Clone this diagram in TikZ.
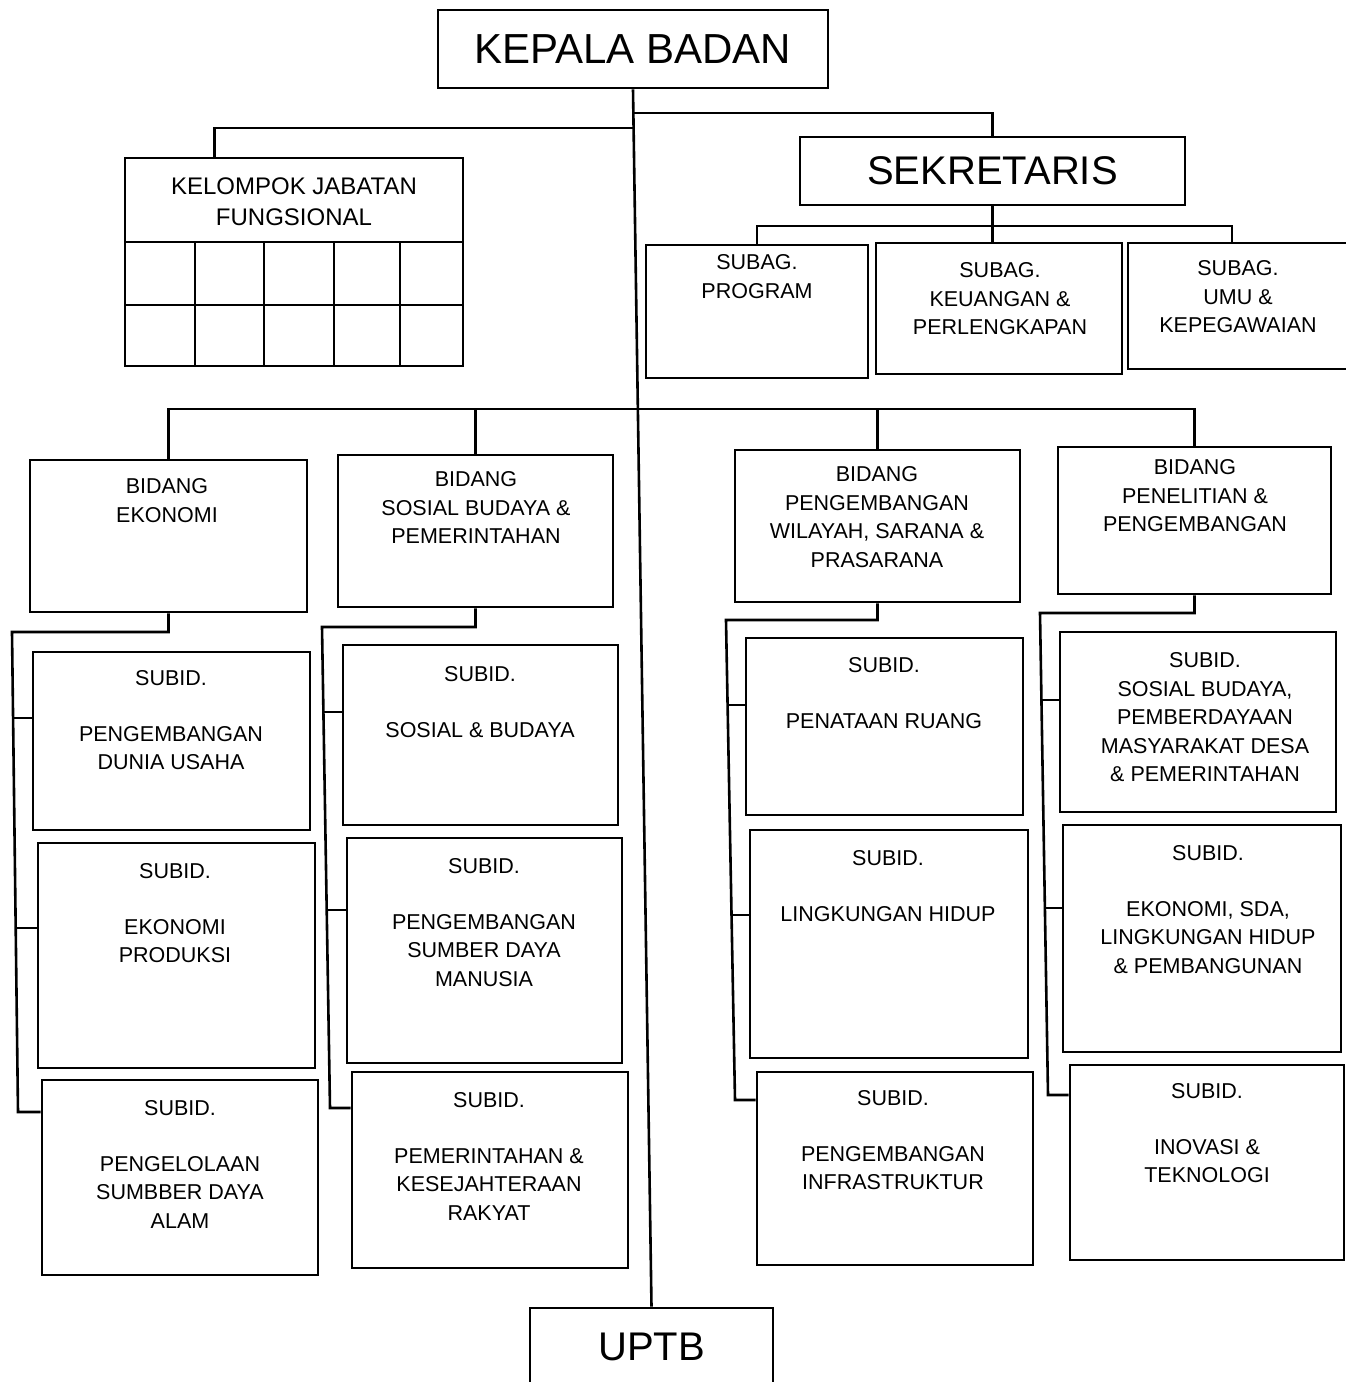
\documentclass[tikz,border=0pt]{standalone}
\usepackage{fontspec}
\setmainfont{Liberation Sans}
\begin{document}
\begin{tikzpicture}[x=1pt,y=-1pt,
  box/.style={draw, line width=2.6pt, inner sep=0pt, rectangle},
  txt/.style={anchor=north, inner sep=0pt, align=center, font=\fontsize{21.5}{28.5}\selectfont},
  big/.style={font=\fontsize{40}{48}\selectfont},
  conn/.style={line width=2.6pt},
]
\useasboundingbox (0,0) rectangle (1345,1382);
\fill[white] (0,0) rectangle (1345,1382);

% top level
\node[box, minimum width=390pt, minimum height=78pt, font=\fontsize{42}{50}\selectfont] (kepala) at (633,49) {KEPALA BADAN};
\node[box, big, minimum width=385pt, minimum height=68pt] (sek) at (992.5,171) {SEKRETARIS};
\node[box, big, minimum width=243pt, minimum height=78pt] (uptb) at (651.5,1347) {UPTB};

% kelompok jabatan fungsional
\node[box, minimum width=338pt, minimum height=208pt] (kjf) at (294,262) {};
\node[txt, font=\fontsize{24}{31}\selectfont] (kjft) at (294,177.5) {KELOMPOK JABATAN\\FUNGSIONAL};
\draw[line width=2.6pt] (125,242) -- (463,242);
\draw[line width=2.6pt] (125,305) -- (463,305);
\foreach \gx in {195,264,334,400} \draw[line width=2.6pt] (\gx,242) -- (\gx,366);

% subag
\node[box, minimum width=222pt, minimum height=133pt] (prog) at (757,311.5) {};
\node[txt] (progt) at (757,254.3) {SUBAG.\\PROGRAM};
\node[box, minimum width=246pt, minimum height=131pt] (keu) at (999,308.5) {};
\node[txt] (keut) at (1000,262.3) {SUBAG.\\KEUANGAN \&\\PERLENGKAPAN};
\node[box, minimum width=222pt, minimum height=126pt] (umu) at (1239,306) {};
\node[txt] (umut) at (1238,260.3) {SUBAG.\\UMU \&\\KEPEGAWAIAN};

% bidang
\node[box, minimum width=277pt, minimum height=152pt] (eko) at (168.5,536) {};
\node[txt] (ekot) at (167,478.3) {BIDANG\\EKONOMI};
\node[box, minimum width=275pt, minimum height=152pt] (sos) at (475.5,531) {};
\node[txt] (sost) at (476,471.3) {BIDANG\\SOSIAL BUDAYA \&\\PEMERINTAHAN};
\node[box, minimum width=285pt, minimum height=152pt] (pwsp) at (877.5,526) {};
\node[txt] (pwspt) at (877,466.3) {BIDANG\\PENGEMBANGAN\\WILAYAH, SARANA \&\\PRASARANA};
\node[box, minimum width=273pt, minimum height=147pt] (pen) at (1194.5,520.5) {};
\node[txt] (pent) at (1195,459.3) {BIDANG\\PENELITIAN \&\\PENGEMBANGAN};

% subid ekonomi
\node[box, minimum width=277pt, minimum height=178pt] (e1) at (171.5,741) {};
\node[txt] (e1t) at (171,670.3) {SUBID.\\[27pt]PENGEMBANGAN\\DUNIA USAHA};
\node[box, minimum width=277pt, minimum height=225pt] (e2) at (176.5,955.5) {};
\node[txt] (e2t) at (175,863.3) {SUBID.\\[27pt]EKONOMI\\PRODUKSI};
\node[box, minimum width=276pt, minimum height=195pt] (e3) at (180,1177.5) {};
\node[txt] (e3t) at (180,1100.3) {SUBID.\\[27pt]PENGELOLAAN\\SUMBBER DAYA\\ALAM};

% subid sosial
\node[box, minimum width=275pt, minimum height=180pt] (s1) at (480.5,735) {};
\node[txt] (s1t) at (480,666.3) {SUBID.\\[27pt]SOSIAL \& BUDAYA};
\node[box, minimum width=275pt, minimum height=225pt] (s2) at (484.5,950.5) {};
\node[txt] (s2t) at (484,858.3) {SUBID.\\[27pt]PENGEMBANGAN\\SUMBER DAYA\\MANUSIA};
\node[box, minimum width=276pt, minimum height=196pt] (s3) at (490,1170) {};
\node[txt] (s3t) at (489,1092.3) {SUBID.\\[27pt]PEMERINTAHAN \&\\KESEJAHTERAAN\\RAKYAT};

% subid pwsp
\node[box, minimum width=277pt, minimum height=177pt] (p1) at (884.5,726.5) {};
\node[txt] (p1t) at (884,657.3) {SUBID.\\[27pt]PENATAAN RUANG};
\node[box, minimum width=278pt, minimum height=228pt] (p2) at (889,944) {};
\node[txt] (p2t) at (888,850.3) {SUBID.\\[27pt]LINGKUNGAN HIDUP};
\node[box, minimum width=276pt, minimum height=193pt] (p3) at (895,1168.5) {};
\node[txt] (p3t) at (893,1090.3) {SUBID.\\[27pt]PENGEMBANGAN\\INFRASTRUKTUR};

% subid penelitian
\node[box, minimum width=276pt, minimum height=180pt] (n1) at (1198,722) {};
\node[txt] (n1t) at (1205,652.3) {SUBID.\\SOSIAL BUDAYA,\\PEMBERDAYAAN\\MASYARAKAT DESA\\\& PEMERINTAHAN};
\node[box, minimum width=278pt, minimum height=227pt] (n2) at (1202,938.5) {};
\node[txt] (n2t) at (1208,845.3) {SUBID.\\[27pt]EKONOMI, SDA,\\LINGKUNGAN HIDUP\\\& PEMBANGUNAN};
\node[box, minimum width=274pt, minimum height=195pt] (n3) at (1207,1162.5) {};
\node[txt] (n3t) at (1207,1083.3) {SUBID.\\[27pt]INOVASI \&\\TEKNOLOGI};

% connectors: trunk
\draw[conn] (kepala.south) -- (uptb.north);
\coordinate (j1) at (633.6,128);
\draw[conn] (j1) -| ([xshift=91pt]kjf.north west);
\coordinate (j2) at (633.3,113);
\draw[conn] (j2) -| (sek.north);

% sekretaris to subag
\coordinate (sb) at (992.5,226);
\draw[conn] (sek.south) -- (sek.south |- keu.north);
\draw[conn] (prog.north) |- (sb) -| ([xshift=-7pt]umu.north);

% bidang bar
\coordinate (bb) at (637.9,409);
\draw[conn] (eko.north) |- (bb) -| (pen.north);
\draw[conn] (sos.north) -- (sos.north |- bb);
\draw[conn] (pwsp.north) -- (pwsp.north |- bb);

% ekonomi spine
\coordinate (ea) at (12,632); \coordinate (ez) at (18,1112);
\draw[conn] (eko.south) |- (ea) -- (ez) -- (ez -| e3.west);
\coordinate (eb1) at (13.1,718); \coordinate (eb2) at (15.7,928);
\draw[conn] (eb1) -- (eb1 -| e1.west);
\draw[conn] (eb2) -- (eb2 -| e2.west);

% sosial spine
\coordinate (sa) at (322,627); \coordinate (sz) at (330,1108);
\draw[conn] (sos.south) |- (sa) -- (sz) -- (sz -| s3.west);
\coordinate (sb1) at (323.4,712); \coordinate (sb2) at (326.7,910);
\draw[conn] (sb1) -- (sb1 -| s1.west);
\draw[conn] (sb2) -- (sb2 -| s2.west);

% pwsp spine
\coordinate (pa) at (726,620); \coordinate (pz) at (735,1100);
\draw[conn] (pwsp.south) |- (pa) -- (pz) -- (pz -| p3.west);
\coordinate (pb1) at (727.6,705); \coordinate (pb2) at (731.5,915);
\draw[conn] (pb1) -- (pb1 -| p1.west);
\draw[conn] (pb2) -- (pb2 -| p2.west);

% penelitian spine
\coordinate (na) at (1040,613); \coordinate (nz) at (1048,1095);
\draw[conn] (pen.south) |- (na) -- (nz) -- (nz -| n3.west);
\coordinate (nb1) at (1041.4,700); \coordinate (nb2) at (1044.9,908);
\draw[conn] (nb1) -- (nb1 -| n1.west);
\draw[conn] (nb2) -- (nb2 -| n2.west);
\end{tikzpicture}
\end{document}
